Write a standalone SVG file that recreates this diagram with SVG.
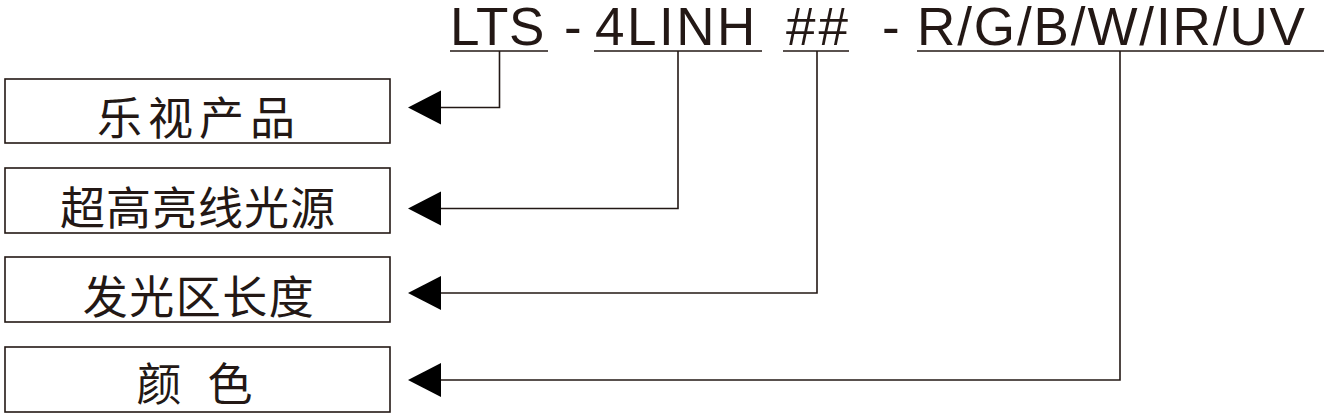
<svg xmlns="http://www.w3.org/2000/svg" width="1328" height="418" viewBox="0 0 1328 418">
<defs>
<style>
.box{fill:#fff;stroke:#231815;stroke-width:1.6}
.cn{font-family:"Noto Sans CJK SC","Noto Sans",sans-serif;font-size:45px;fill:#231815;text-anchor:middle}
.code{font-family:"Liberation Sans",Arial,sans-serif;font-size:53px;fill:#231815}
.ul{stroke:#231815;stroke-width:1.6;fill:none}
.con{stroke:#231815;stroke-width:1.6;fill:none}
.ah{fill:#000}
</style>
</defs>
<rect width="1328" height="418" fill="#fff"/>
<g id="code">
<text class="code" x="450" y="45" letter-spacing="0.5">LTS</text>
<text class="code" x="564" y="45">-</text>
<text class="code" x="595" y="45" letter-spacing="2.5">4LINH</text>
<text class="code" x="786" y="45" letter-spacing="3">##</text>
<text class="code" x="882" y="45">-</text>
<text class="code" x="917" y="45" letter-spacing="1.9">R/G/B/W/IR/UV</text>
<line class="ul" x1="450" y1="51" x2="548" y2="51"/>
<line class="ul" x1="594" y1="51" x2="762" y2="51"/>
<line class="ul" x1="783" y1="51" x2="849" y2="51"/>
<line class="ul" x1="917" y1="51" x2="1324" y2="51"/>
</g>
<g id="node-product">
<rect class="box" x="5" y="79" width="385" height="64"/>
<text class="cn" x="199" y="135" letter-spacing="6">乐视产品</text>
</g>
<g id="node-light">
<rect class="box" x="5" y="168" width="385" height="65"/>
<text class="cn" x="198" y="225" letter-spacing="1">超高亮线光源</text>
</g>
<g id="node-length">
<rect class="box" x="5" y="257" width="385" height="65"/>
<text class="cn" x="199" y="314" letter-spacing="1.5">发光区长度</text>
</g>
<g id="node-color">
<rect class="box" x="5" y="347" width="385" height="65"/>
<text class="cn" x="198.5" y="401" letter-spacing="8">颜 色</text>
</g>
<g id="connectors">
<polyline class="con" points="499.5,51 499.5,107.5 440,107.5"/>
<polyline class="con" points="678,51 678,208.5 440,208.5"/>
<polyline class="con" points="817,51 817,293 440,293"/>
<polyline class="con" points="1120,51 1120,380 440,380"/>
<polygon class="ah" points="408,107.5 441,90.5 441,124.5"/>
<polygon class="ah" points="408,208.5 441,191.5 441,225.5"/>
<polygon class="ah" points="408,293 441,276 441,310"/>
<polygon class="ah" points="408,380 441,363 441,397"/>
</g>
</svg>
